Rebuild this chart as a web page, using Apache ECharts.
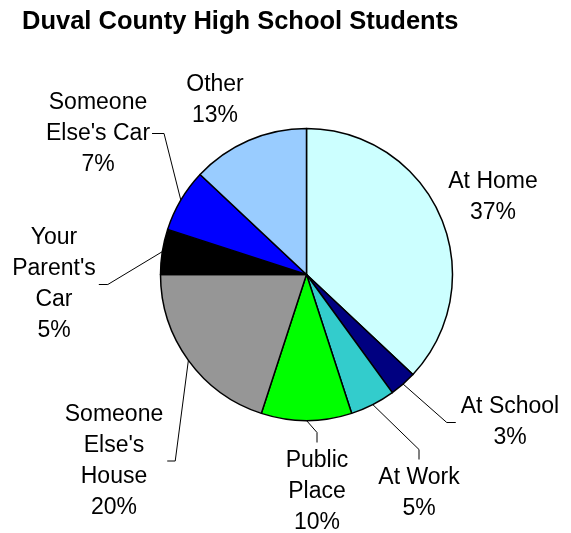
<!DOCTYPE html>
<html>
<head>
<meta charset="utf-8">
<script src="https://cdn.jsdelivr.net/npm/echarts@6/dist/echarts.min.js"></script>
<style>
html,body{margin:0;padding:0;background:#fff;}
#chart{width:571px;height:533px;}
</style>
</head>
<body>
<div id="chart"></div>
<script>
// ---- data ----
var categories = ["At Home", "At School", "At Work", "Public Place", "Someone Else's House", "Your Parent's Car", "Someone Else's Car", "Other"];
var values = [37, 3, 5, 10, 20, 5, 7, 13];
var labelText = ["At Home", "At School", "At Work", "Public\nPlace", "Someone\nElse's\nHouse", "Your\nParent's\nCar", "Someone\nElse's Car", "Other"];
var colors = ["#CCFFFF", "#000080", "#33CCCC", "#00FF00", "#969696", "#000000", "#0000FF", "#99CCFF"];

// ---- label layout (positions / leader-line styling) ----
var labelPos = [[493, 197], [510, 422.5], [419, 493.5], [317, 492], [114, 461], [54, 284.5], [98, 133.5], [215, 100]];
var leaderSide = [null, "left", "top", "top", "right", "right", "right", null];
var leaderGap = [0, 5, 3, 3, 4, 3, 2, 0];
var leaderLen = [0, 9, 10, 10, 8, 9, 12, 0];

var chart = echarts.init(document.getElementById('chart'), null, {renderer: 'canvas'});

var data = categories.map(function (c, i) {
  var hasLine = leaderSide[i] !== null;
  return {
    name: c,
    value: values[i],
    itemStyle: {color: colors[i]},
    labelLine: {show: hasLine}
  };
});

var option = {
  backgroundColor: '#ffffff',
  animation: false,
  title: {
    text: 'Duval County High School Students',
    left: 17,
    top: 4,
    textStyle: {
      fontFamily: 'Liberation Sans, Arial, sans-serif',
      fontSize: 25.5,
      fontWeight: 'bold',
      color: '#000'
    }
  },
  series: [{
    type: 'pie',
    center: [306.5, 274.5],
    radius: 146,
    startAngle: 90,
    clockwise: true,
    avoidLabelOverlap: false,
    data: data,
    itemStyle: {borderColor: '#000', borderWidth: 1.5},
    emphasis: {disabled: true},
    label: {
      show: true,
      position: 'outside',
      fontFamily: 'Liberation Sans, Arial, sans-serif',
      fontSize: 23,
      lineHeight: 31,
      color: '#000',
      align: 'center',
      formatter: function (p) {
        return labelText[p.dataIndex] + '\n' + p.value + '%';
      }
    },
    labelLine: {
      show: true,
      length: 10,
      length2: 10,
      lineStyle: {color: '#000', width: 1}
    },
    labelLayout: function (params) {
      var i = params.dataIndex;
      var x = labelPos[i][0], y = labelPos[i][1];
      var w = params.labelRect.width, h = params.labelRect.height;
      var res = {x: x, y: y, align: 'center', verticalAlign: 'middle'};
      var side = leaderSide[i];
      if (side && params.labelLinePoints) {
        var a = params.labelLinePoints[0];
        var end, elbow;
        if (side === 'right') {
          end = [x + w / 2 + leaderGap[i], y];
          elbow = [end[0] + leaderLen[i], y];
        } else if (side === 'left') {
          end = [x - w / 2 - leaderGap[i], y];
          elbow = [end[0] - leaderLen[i], y];
        } else {
          end = [x, y - h / 2 - leaderGap[i]];
          elbow = [x, end[1] - leaderLen[i]];
        }
        res.labelLinePoints = [[a[0], a[1]], elbow, end];
      }
      return res;
    }
  }]
};
chart.setOption(option);
</script>
</body>
</html>
